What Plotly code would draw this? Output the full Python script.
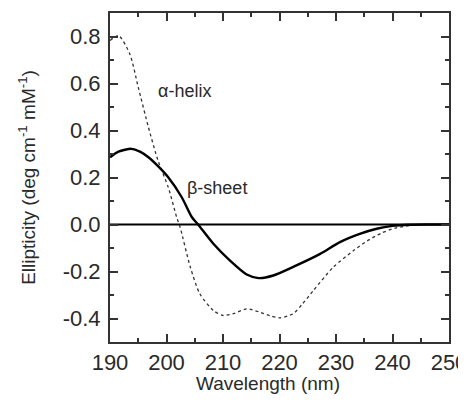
import plotly.graph_objects as go

wavelength_alpha = [190, 191.5, 193.5, 195.0, 196.8, 198.5, 200.3, 201.8, 202.4, 204.2, 205.9, 208.3, 210.0, 212.0, 214.2, 216.5, 218.5, 220.1, 222.4, 224.0, 226.0, 229.5, 233.1, 235.5, 238.0, 240.5, 243.0, 246.0, 250]
alpha_helix = [0.783, 0.804, 0.726, 0.584, 0.414, 0.272, 0.159, 0.031, -0.011, -0.18, -0.295, -0.366, -0.387, -0.378, -0.359, -0.373, -0.39, -0.397, -0.38, -0.34, -0.281, -0.182, -0.111, -0.07, -0.037, -0.015, -0.005, -0.001, 0.0]

wavelength_beta = [190, 191.5, 193.8, 195.3, 196.8, 198.5, 200.3, 202.7, 204.5, 205.6, 208.3, 211.2, 214.2, 216.3, 218.9, 223.0, 227.2, 230.7, 234.2, 237.2, 240.0, 243.0, 246.0, 250]
beta_sheet = [0.286, 0.31, 0.322, 0.31, 0.286, 0.248, 0.201, 0.116, 0.031, 0.0, -0.082, -0.153, -0.213, -0.228, -0.217, -0.174, -0.125, -0.075, -0.04, -0.018, -0.006, -0.001, 0.0, 0.0]

x_ticks = [190, 200, 210, 220, 230, 240, 250]
y_ticks = [-0.4, -0.2, 0.0, 0.2, 0.4, 0.6, 0.8]
y_tick_labels = ["-0.4", "-0.2", "0.0", "0.2", "0.4", "0.6", "0.8"]

FONT = "Liberation Sans, Arial, sans-serif"
TXT = "#2a2a2a"

fig = go.Figure()
fig.add_trace(go.Scatter(x=[190, 250], y=[0, 0], mode="lines",
                         line=dict(color="black", width=2), showlegend=False, hoverinfo="skip"))
fig.add_trace(go.Scatter(x=wavelength_alpha, y=alpha_helix, mode="lines",
                         line=dict(color="#333333", width=1.3, dash="dot", shape="spline", smoothing=0.7),
                         name="α-helix", showlegend=False))
fig.add_trace(go.Scatter(x=wavelength_beta, y=beta_sheet, mode="lines",
                         line=dict(color="black", width=2.4, shape="spline", smoothing=0.7),
                         name="β-sheet", showlegend=False))

fig.add_annotation(x=198.2, y=0.57, text="α-helix", showarrow=False, xanchor="left", yanchor="middle",
                   font=dict(family=FONT, size=18, color=TXT))
fig.add_annotation(x=203.3, y=0.155, text="β-sheet", showarrow=False, xanchor="left", yanchor="middle",
                   font=dict(family=FONT, size=18, color=TXT))
# x-axis title (sits slightly left of the plot centre in the original)
fig.add_annotation(xref="paper", yref="paper", x=0.466, y=0, yshift=-41, text="Wavelength (nm)",
                   showarrow=False, xanchor="center", yanchor="middle",
                   font=dict(family=FONT, size=19, color=TXT))

axis_common = dict(showline=True, linecolor="#333", linewidth=2, mirror="ticks",
                   ticks="inside", ticklen=8, tickwidth=1.5, tickcolor="#333",
                   showgrid=False, zeroline=False, automargin=False,
                   ticklabeloverflow="allow",
                   tickfont=dict(family=FONT, size=22, color=TXT))

fig.update_xaxes(range=[190, 250], tickvals=x_ticks,
                 minor=dict(dtick=5, tick0=190, ticks="inside", ticklen=4, tickwidth=1.5, tickcolor="#333"),
                 **axis_common)
fig.update_yaxes(range=[-0.5, 0.9], tickvals=y_ticks, ticktext=y_tick_labels,
                 ticklabelstandoff=3,
                 minor=dict(dtick=0.1, tick0=0, ticks="inside", ticklen=4, tickwidth=1.5, tickcolor="#333"),
                 title=dict(text="Ellipticity (deg cm<sup>-1</sup> mM<sup>-1</sup>)",
                            font=dict(family=FONT, size=19, color=TXT), standoff=22),
                 **axis_common)

# page body has a default 8px margin, so the figure is offset by 8px
fig.update_layout(width=458, height=396, margin=dict(l=102, r=17, t=5, b=62),
                  plot_bgcolor="white", paper_bgcolor="white")
fig.write_html("out.html")
